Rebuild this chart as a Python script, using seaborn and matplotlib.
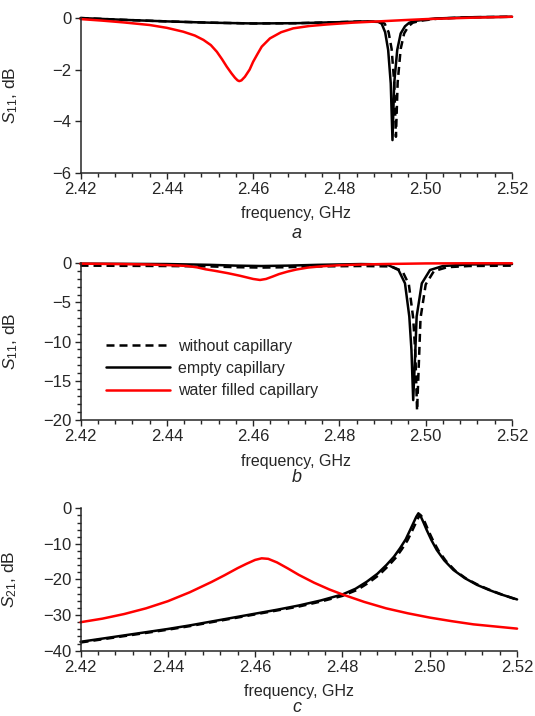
import numpy as np
import pandas as pd
import matplotlib
matplotlib.use("Agg")
import matplotlib.pyplot as plt
from matplotlib.ticker import MultipleLocator, FormatStrFormatter
import seaborn as sns

# ---- panel a: S11, narrow view ----
a_freq_without = [2.420, 2.430, 2.440, 2.450, 2.460, 2.470, 2.480, 2.486, 2.4897, 2.4905, 2.4914, 2.4921,
                  2.4927, 2.4931, 2.4935, 2.4942, 2.4950, 2.4960, 2.4970, 2.499, 2.503, 2.510, 2.520]
a_s11_without = [0.0, -0.07, -0.13, -0.18, -0.21, -0.2, -0.16, -0.13, -0.15, -0.22, -0.55, -1.2,
                 -2.5, -4.61, -2.5, -1.2, -0.6, -0.32, -0.18, -0.1, -0.02, 0.03, 0.05]
a_freq_empty = [2.420, 2.430, 2.440, 2.450, 2.460, 2.470, 2.480, 2.486, 2.4890, 2.4898, 2.4906, 2.4913,
                2.4919, 2.4923, 2.4927, 2.4934, 2.4942, 2.4952, 2.4962, 2.498, 2.502, 2.510, 2.520]
a_s11_empty = [0.0, -0.07, -0.13, -0.18, -0.21, -0.2, -0.16, -0.13, -0.15, -0.22, -0.55, -1.24,
               -2.54, -4.74, -2.54, -1.24, -0.6, -0.32, -0.18, -0.1, -0.02, 0.03, 0.05]
a_freq_water = [2.420, 2.425, 2.430, 2.436, 2.440, 2.4438, 2.4465, 2.4485, 2.4502, 2.4516, 2.4528,
                2.4539, 2.4550, 2.4558, 2.4564, 2.4568, 2.4573, 2.4581, 2.4592, 2.4600, 2.4610,
                2.4620, 2.4639, 2.4665, 2.4693, 2.4730, 2.4771, 2.4830, 2.4879, 2.4950, 2.5002,
                2.5100, 2.5200]
a_s11_water = [-0.04, -0.10, -0.17, -0.27, -0.38, -0.53, -0.68, -0.85, -1.05, -1.31, -1.6,
               -1.89, -2.15, -2.32, -2.42, -2.45, -2.42, -2.28, -2.0, -1.7, -1.4,
               -1.11, -0.79, -0.55, -0.40, -0.31, -0.25, -0.18, -0.14, -0.08, -0.04,
               0.01, 0.05]

# ---- panel b: S11, wide view ----
b_freq_without = [2.420, 2.440, 2.450, 2.456, 2.462, 2.468, 2.475, 2.485, 2.492, 2.4946, 2.4961,
                  2.4971, 2.4976, 2.4980, 2.4985, 2.4988, 2.5000, 2.5019, 2.505, 2.510, 2.520]
b_s11_without = [-0.3, -0.35, -0.4, -0.5, -0.55, -0.5, -0.4, -0.35, -0.4, -1.0, -2.7,
                 -7.0, -11.5, -18.8, -11.5, -7.0, -2.7, -1.0, -0.5, -0.35, -0.3]
b_freq_empty = [2.420, 2.440, 2.450, 2.456, 2.462, 2.468, 2.475, 2.485, 2.491, 2.4937, 2.4952,
                2.4962, 2.4967, 2.4971, 2.4976, 2.4979, 2.4991, 2.5010, 2.504, 2.510, 2.520]
b_s11_empty = [-0.05, -0.1, -0.2, -0.3, -0.35, -0.3, -0.2, -0.1, -0.15, -0.86, -2.56,
               -6.8, -11.1, -17.46, -11.1, -6.8, -2.56, -0.86, -0.35, -0.15, -0.1]
b_freq_water = [2.420, 2.430, 2.436, 2.441, 2.4446, 2.447, 2.449, 2.451, 2.4525, 2.454, 2.4553,
                2.457, 2.4585, 2.460, 2.4616, 2.463, 2.4645, 2.466, 2.468, 2.470, 2.4727,
                2.476, 2.480, 2.485, 2.490, 2.500, 2.510, 2.520]
b_s11_water = [-0.05, -0.1, -0.16, -0.25, -0.34, -0.52, -0.77, -0.95, -1.1, -1.25, -1.4,
               -1.6, -1.8, -2.0, -2.13, -2.0, -1.7, -1.38, -1.06, -0.8, -0.55,
               -0.38, -0.25, -0.16, -0.1, -0.02, 0.0, 0.0]

# ---- panel c: S21 ----
c_freq_without = [2.420, 2.425, 2.430, 2.435, 2.440, 2.445, 2.450, 2.455, 2.460, 2.465, 2.470,
                  2.475, 2.480, 2.4834, 2.4860, 2.4884, 2.4905, 2.4922, 2.4936, 2.4949, 2.4959,
                  2.4967, 2.4973, 2.4978, 2.4983, 2.4989, 2.4997, 2.5008, 2.5020, 2.5037,
                  2.5058, 2.5084, 2.5112, 2.5139, 2.5165, 2.520]
c_s21_without = [-37.7, -36.8, -35.9, -35.0, -34.1, -33.1, -32.0, -30.9, -29.8, -28.7, -27.6,
                 -26.2, -24.6, -22.9, -20.9, -18.7, -16.2, -13.9, -11.5, -9.0, -6.5,
                 -4.4, -2.8, -1.8, -2.5, -4.0, -6.3, -9.2, -11.9, -14.8,
                 -17.5, -19.8, -21.6, -23.0, -24.2, -25.7]
c_freq_empty = [2.420, 2.425, 2.430, 2.435, 2.440, 2.445, 2.450, 2.455, 2.460, 2.465, 2.470,
                2.475, 2.480, 2.4830, 2.4856, 2.4880, 2.4901, 2.4918, 2.4932, 2.4945, 2.4955,
                2.4963, 2.4969, 2.4974, 2.4979, 2.4985, 2.4993, 2.5004, 2.5016, 2.5033,
                2.5054, 2.5080, 2.5108, 2.5135, 2.5161, 2.520]
c_s21_empty = [-37.5, -36.6, -35.7, -34.8, -33.9, -32.9, -31.8, -30.7, -29.6, -28.5, -27.3,
               -25.9, -24.2, -22.6, -20.6, -18.4, -15.9, -13.6, -11.2, -8.7, -6.1,
               -4.0, -2.4, -1.4, -2.2, -3.8, -6.1, -9.0, -11.7, -14.6,
               -17.3, -19.6, -21.5, -22.9, -24.1, -25.6]
c_freq_water = [2.420, 2.425, 2.430, 2.435, 2.440, 2.445, 2.450, 2.453, 2.456, 2.458, 2.460,
                2.4615, 2.463, 2.465, 2.4675, 2.470, 2.4735, 2.477, 2.480, 2.485, 2.490,
                2.495, 2.500, 2.505, 2.510, 2.515, 2.520]
c_s21_water = [-32.0, -31.0, -29.7, -28.1, -26.1, -23.6, -20.7, -18.8, -16.8, -15.6, -14.5,
               -14.05, -14.2, -15.2, -16.9, -18.7, -20.9, -22.8, -24.2, -26.3, -28.1,
               -29.5, -30.7, -31.7, -32.6, -33.2, -33.8]

labels = ["without capillary", "empty capillary", "water filled capillary"]

sns.set_style("ticks")
plt.rcParams['font.family'] = ['Liberation Sans', 'DejaVu Sans']
plt.rcParams['mathtext.fontset'] = 'custom'
plt.rcParams['mathtext.rm'] = 'Liberation Sans'
plt.rcParams['mathtext.it'] = 'Liberation Sans:italic'
plt.rcParams['font.size'] = 12

fig = plt.figure(figsize=(5.35, 7.16), dpi=100)
ax_a = fig.add_axes([0.1505, 0.759, 0.8065, 0.2158])
ax_b = fig.add_axes([0.1505, 0.4134, 0.8065, 0.2189])
ax_c = fig.add_axes([0.1505, 0.0912, 0.816, 0.1989])

dash = (0, (3.2, 2.0))
panels = [
    (ax_a, [(a_freq_without, a_s11_without), (a_freq_empty, a_s11_empty), (a_freq_water, a_s11_water)],
     (-6, 0), 2, None, r"$S_{11}$, dB", "a"),
    (ax_b, [(b_freq_without, b_s11_without), (b_freq_empty, b_s11_empty), (b_freq_water, b_s11_water)],
     (-20, 0), 5, 1, r"$S_{11}$, dB", "b"),
    (ax_c, [(c_freq_without, c_s21_without), (c_freq_empty, c_s21_empty), (c_freq_water, c_s21_water)],
     (-40, 0), 10, 2, r"$S_{21}$, dB", "c"),
]

for ax, series, ylim, ymaj, ymin, ylab, letter in panels:
    styles = [("black", dash), ("black", "-"), ("#ff0000", "-")]
    for (fx, fy), (col, ls), lab in zip(series, styles, labels):
        df = pd.DataFrame({"freq": fx, "val": fy})
        sns.lineplot(data=df, x="freq", y="val", ax=ax, color=col, linestyle=ls,
                     linewidth=1.8, label=lab, clip_on=False, estimator=None, sort=False)
    ax.set_xlim(2.42, 2.52)
    ax.set_ylim(*ylim)
    ax.xaxis.set_major_locator(MultipleLocator(0.02))
    ax.xaxis.set_minor_locator(MultipleLocator(0.004))
    ax.xaxis.set_major_formatter(FormatStrFormatter('%.2f'))
    ax.yaxis.set_major_locator(MultipleLocator(ymaj))
    if ymin:
        ax.yaxis.set_minor_locator(MultipleLocator(ymin))
    ax.tick_params(which='major', length=4.5, width=1, direction='out', labelsize=12, pad=2)
    ax.tick_params(which='minor', length=3, width=1, direction='out')
    for s in ["top", "right"]:
        ax.spines[s].set_visible(False)
    for s in ["left", "bottom"]:
        ax.spines[s].set_linewidth(1.1)
    ax.set_xlabel("frequency, GHz", fontsize=11.5, labelpad=7)
    ax.set_ylabel(ylab, fontsize=12.5)
    ax.yaxis.set_label_coords(-0.14, 0.5)
    if letter == "b":
        ax.legend(frameon=False, loc='upper left', bbox_to_anchor=(0.025, 0.61),
                  handlelength=4.0, handletextpad=0.5, labelspacing=0.45, fontsize=11.5)
    else:
        ax.get_legend().remove()

fig.text(0.555, 1 - 233 / 716, "a", fontsize=13, style='italic', ha='center', va='center')
fig.text(0.555, 1 - 478 / 716, "b", fontsize=13, style='italic', ha='center', va='center')
fig.text(0.555, 1 - 707 / 716, "c", fontsize=13, style='italic', ha='center', va='center')

fig.savefig("out.png", dpi=100)
